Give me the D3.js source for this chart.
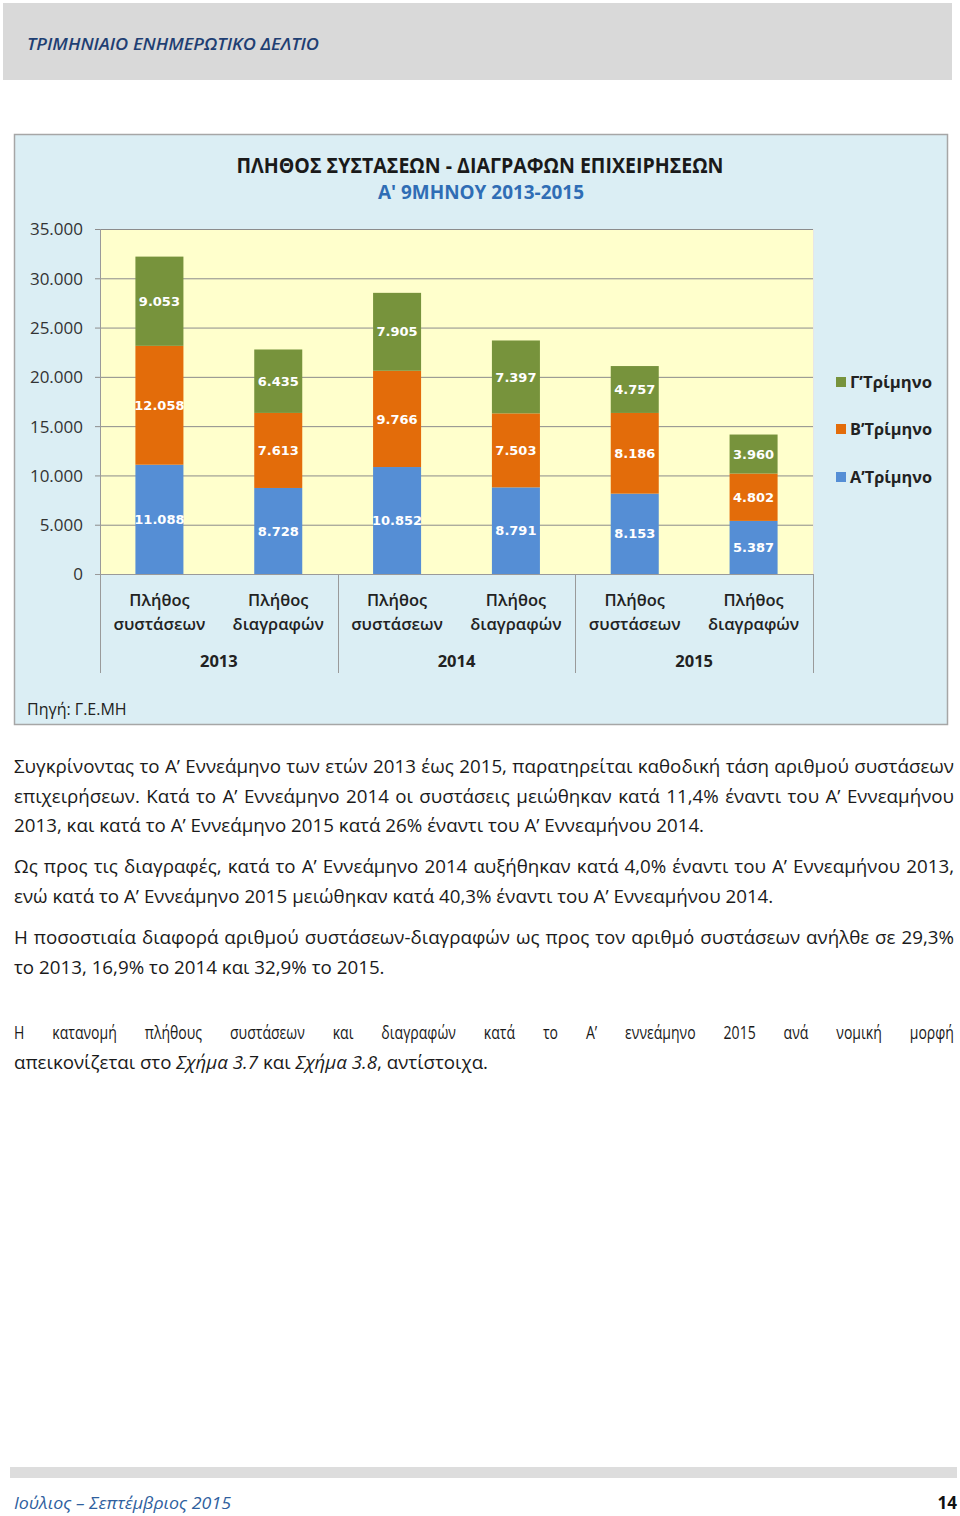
<!DOCTYPE html>
<html>
<head>
<meta charset="utf-8">
<script src="https://cdn.jsdelivr.net/npm/d3@7"></script>
<style>
  html, body { margin: 0; padding: 0; background: #ffffff; }
  svg { display: block; }
</style>
</head>
<body>
<svg id="page" width="960" height="1516"></svg>
<script>
// ---------------- DATA ----------------
const years = ["2013", "2014", "2015"];
const measures = ["συστάσεων", "διαγραφών"];
const quarterNames = ["Α’Τρίμηνο", "Β’Τρίμηνο", "Γ’Τρίμηνο"];
const quarterA = [11088, 8728, 10852, 8791, 8153, 5387];
const quarterB = [12058, 7613, 9766, 7503, 8186, 4802];
const quarterC = [9053, 6435, 7905, 7397, 4757, 3960];
const yTicks = [0, 5000, 10000, 15000, 20000, 25000, 30000, 35000];

const paragraphs = [
  ["Συγκρίνοντας το Α’ Εννεάμηνο των ετών 2013 έως 2015, παρατηρείται καθοδική τάση αριθμού συστάσεων",
   "επιχειρήσεων. Κατά το Α’ Εννεάμηνο 2014 οι συστάσεις μειώθηκαν κατά 11,4% έναντι του Α’ Εννεαμήνου",
   "2013, και κατά το Α’ Εννεάμηνο 2015 κατά 26% έναντι του Α’ Εννεαμήνου 2014."],
  ["Ως προς τις διαγραφές, κατά το Α’ Εννεάμηνο 2014 αυξήθηκαν κατά 4,0% έναντι του Α’ Εννεαμήνου 2013,",
   "ενώ κατά το Α’ Εννεάμηνο 2015 μειώθηκαν κατά 40,3% έναντι του Α’ Εννεαμήνου 2014."],
  ["Η ποσοστιαία διαφορά αριθμού συστάσεων-διαγραφών ως προς τον αριθμό συστάσεων ανήλθε σε 29,3%",
   "το 2013, 16,9% το 2014 και 32,9% το 2015."]
];

// ---------------- SETUP ----------------
const svg = d3.select("#page");
const C = {
  green: "#77933C", orange: "#E36C0A", blue: "#558ED5",
  panel: "#DBEEF4", plot: "#FFFFCC", grid: "#8C8C8C", text: "#222222"
};
const sansFont = "'Open Sans', 'Noto Sans', sans-serif";

// Header band
svg.append("rect").attr("x", 3).attr("y", 3).attr("width", 949).attr("height", 77).attr("fill", "#D9D9D9");
svg.append("text").attr("x", 27).attr("y", 50)
  .attr("font-family", sansFont).attr("font-size", 17).attr("font-weight", 600)
  .attr("font-style", "italic").attr("fill", "#1F3F73")
  .attr("textLength", 292).attr("lengthAdjust", "spacingAndGlyphs")
  .text("ΤΡΙΜΗΝΙΑΙΟ ΕΝΗΜΕΡΩΤΙΚΟ ΔΕΛΤΙΟ");

// Chart panel
svg.append("rect").attr("x", 14.5).attr("y", 134.5).attr("width", 933).attr("height", 590)
  .attr("fill", C.panel).attr("stroke", "#A6A6A6").attr("stroke-width", 1.5);

svg.append("text").attr("x", 480).attr("y", 173).attr("text-anchor", "middle")
  .attr("font-family", sansFont).attr("font-size", 21).attr("font-weight", 700).attr("fill", "#1A1A1A")
  .attr("textLength", 487).attr("lengthAdjust", "spacingAndGlyphs")
  .text("ΠΛΗΘΟΣ ΣΥΣΤΑΣΕΩΝ - ΔΙΑΓΡΑΦΩΝ ΕΠΙΧΕΙΡΗΣΕΩΝ");
svg.append("text").attr("x", 481).attr("y", 199).attr("text-anchor", "middle")
  .attr("font-family", sansFont).attr("font-size", 19).attr("font-weight", 700).attr("fill", "#2F6DB5")
  .attr("textLength", 206).attr("lengthAdjust", "spacingAndGlyphs")
  .text("Α' 9ΜΗΝΟΥ 2013-2015");

// Plot
const plot = { left: 100, right: 813, top: 229, bottom: 574 };
const catKeys = d3.range(6);
const x = d3.scaleBand().domain(catKeys).range([plot.left, plot.right])
  .paddingInner(0.596).paddingOuter(0.298);
const y = d3.scaleLinear().domain([0, 35000]).range([plot.bottom, plot.top]);

svg.append("rect").attr("x", plot.left).attr("y", plot.top)
  .attr("width", plot.right - plot.left).attr("height", plot.bottom - plot.top)
  .attr("fill", C.plot);

// grid + y axis
const yAxis = d3.axisLeft(y).tickValues(yTicks)
  .tickSize(0).tickPadding(12)
  .tickFormat(d => d3.format(",")(d).replace(/,/g, "."));
const yg = svg.append("g").attr("transform", `translate(${plot.left},0)`).call(yAxis);
yg.select(".domain").remove();
yg.selectAll(".tick line").attr("x1", -5).attr("x2", plot.right - plot.left)
  .attr("stroke", C.grid).attr("stroke-width", 1);
yg.selectAll(".tick text").attr("font-family", sansFont).attr("font-size", 17)
  .attr("fill", "#333").attr("x", -17).attr("dy", "0.35em");

// vertical axis line
svg.append("line").attr("x1", plot.left + 0.5).attr("x2", plot.left + 0.5)
  .attr("y1", plot.top).attr("y2", 673).attr("stroke", "#9A9A9A");

// stacked bars
const rows = catKeys.map(i => ({ i, A: quarterA[i], B: quarterB[i], C: quarterC[i] }));
const stack = d3.stack().keys(["A", "B", "C"])(rows);
const colorOf = { A: C.blue, B: C.orange, C: C.green };

const layers = svg.append("g").selectAll("g").data(stack).join("g")
  .attr("fill", d => colorOf[d.key]);
layers.selectAll("rect").data(d => d).join("rect")
  .attr("x", d => x(d.data.i)).attr("width", x.bandwidth())
  .attr("y", d => y(d[1])).attr("height", d => y(d[0]) - y(d[1]));

// data labels
const labelG = svg.append("g");
stack.forEach(layer => {
  layer.forEach(d => {
    labelG.append("text")
      .attr("x", x(d.data.i) + x.bandwidth() / 2)
      .attr("y", (y(d[0]) + y(d[1])) / 2)
      .attr("dy", "0.36em").attr("text-anchor", "middle")
      .attr("font-family", "'DejaVu Sans', Verdana, sans-serif").attr("font-size", 13)
      .attr("font-weight", 700).attr("fill", "#FFFFFF")
      .text(d3.format(",")(d.data[layer.key]).replace(/,/g, "."));
  });
});

// bottom axis line
svg.append("line").attr("x1", plot.left - 5).attr("x2", plot.right)
  .attr("y1", plot.bottom + 0.5).attr("y2", plot.bottom + 0.5).attr("stroke", "#9A9A9A");
svg.append("line").attr("x1", plot.right + 0.5).attr("x2", plot.right + 0.5)
  .attr("y1", plot.top).attr("y2", plot.bottom).attr("stroke", "#E6E6E6");

// category separators
const groupX = d3.scaleBand().domain(years).range([plot.left, plot.right]);
years.forEach((yr, k) => {
  const gx = groupX(yr) + groupX.bandwidth();
  svg.append("line").attr("x1", Math.round(gx) + 0.5).attr("x2", Math.round(gx) + 0.5)
    .attr("y1", plot.bottom).attr("y2", 673).attr("stroke", "#9A9A9A");
  svg.append("text").attr("x", groupX(yr) + groupX.bandwidth() / 2).attr("y", 667)
    .attr("text-anchor", "middle").attr("font-family", sansFont).attr("font-size", 16.5)
    .attr("font-weight", 700).attr("fill", C.text).text(yr);
});
catKeys.forEach(i => {
  const cx = x(i) + x.bandwidth() / 2;
  const t = svg.append("text").attr("text-anchor", "middle").attr("font-family", sansFont)
    .attr("font-size", 16.5).attr("font-weight", 600).attr("fill", C.text);
  t.append("tspan").attr("x", cx).attr("y", 606).text("Πλήθος");
  t.append("tspan").attr("x", cx).attr("y", 630).text(measures[i % 2]);
});

// legend
const legendItems = [
  { name: quarterNames[2], color: C.green, cy: 382 },
  { name: quarterNames[1], color: C.orange, cy: 429 },
  { name: quarterNames[0], color: C.blue, cy: 477 }
];
legendItems.forEach(it => {
  svg.append("rect").attr("x", 836).attr("y", it.cy - 5).attr("width", 10).attr("height", 10).attr("fill", it.color);
  svg.append("text").attr("x", 850).attr("y", it.cy).attr("dy", "0.36em")
    .attr("font-family", sansFont).attr("font-size", 16).attr("font-weight", 700)
    .attr("fill", C.text).attr("textLength", 82).attr("lengthAdjust", "spacingAndGlyphs")
    .text(it.name);
});

// source
svg.append("text").attr("x", 27).attr("y", 715).attr("font-family", sansFont)
  .attr("font-size", 16).attr("fill", C.text).text("Πηγή: Γ.Ε.ΜΗ");

// ---------------- PARAGRAPHS ----------------
const textLeft = 14, textRight = 954;
const bodyFont = sansFont;
const baselines = [[773, 803, 832], [873, 903], [944, 974]];
const lastWidths = [692, 761, 369];

function measure(str, size) {
  const t = svg.append("text").attr("font-family", bodyFont).attr("font-size", size)
    .style("white-space", "pre").text(str);
  const w = t.node().getComputedTextLength();
  t.remove();
  return w;
}
const ratios = paragraphs.map((p, pi) => lastWidths[pi] / measure(p[p.length - 1], 16));
const bodySize = 16 * d3.mean(ratios);

paragraphs.forEach((p, pi) => {
  p.forEach((line, li) => {
    const last = li === p.length - 1;
    const t = svg.append("text").attr("x", textLeft).attr("y", baselines[pi][li])
      .attr("font-family", bodyFont).attr("font-size", bodySize).attr("fill", "#1A1A1A")
      .style("white-space", "pre").text(line);
    const w = t.node().getComputedTextLength();
    if (!last) {
      const spaces = (line.match(/ /g) || []).length;
      t.style("word-spacing", ((textRight - textLeft - w) / spaces) + "px");
    }
  });
});

// last paragraph (condensed face)
const condense = 0.74;
const condSize = 19;
const p4a = "Η κατανομή πλήθους συστάσεων και διαγραφών κατά το Α’ εννεάμηνο 2015 ανά νομική μορφή";
(function () {
  const words = p4a.split(" ");
  const g = svg.append("g").attr("transform", `scale(${condense},1)`);
  const nodes = words.map(w => g.append("text").attr("y", 1039).attr("font-family", bodyFont)
    .attr("font-size", condSize).attr("fill", "#1A1A1A").text(w));
  const widths = nodes.map(n => n.node().getComputedTextLength() * condense);
  const total = d3.sum(widths);
  const gap = (textRight - textLeft - total) / (words.length - 1);
  let cx = textLeft;
  nodes.forEach((n, k) => {
    n.attr("x", cx / condense);
    cx += widths[k] + gap;
  });
})();
const t4b = svg.append("text").attr("x", textLeft).attr("y", 1069)
  .attr("font-family", bodyFont).attr("font-size", condSize).attr("fill", "#1A1A1A")
  .attr("textLength", 474).attr("lengthAdjust", "spacingAndGlyphs");
t4b.append("tspan").text("απεικονίζεται στο ");
t4b.append("tspan").attr("font-style", "italic").text("Σχήμα 3.7");
t4b.append("tspan").text(" και ");
t4b.append("tspan").attr("font-style", "italic").text("Σχήμα 3.8");
t4b.append("tspan").text(", αντίστοιχα.");

// ---------------- FOOTER ----------------
svg.append("rect").attr("x", 10).attr("y", 1467).attr("width", 947).attr("height", 11).attr("fill", "#DDDDDD");
svg.append("text").attr("x", 14).attr("y", 1509).attr("font-family", sansFont)
  .attr("font-size", 17).attr("font-style", "italic").attr("fill", "#2F5F9E")
  .attr("textLength", 217).attr("lengthAdjust", "spacingAndGlyphs")
  .text("Ιούλιος – Σεπτέμβριος 2015");
svg.append("text").attr("x", 957).attr("y", 1509).attr("text-anchor", "end").attr("font-family", sansFont)
  .attr("font-size", 17).attr("font-weight", 700).attr("fill", "#111").text("14");
</script>
</body>
</html>
